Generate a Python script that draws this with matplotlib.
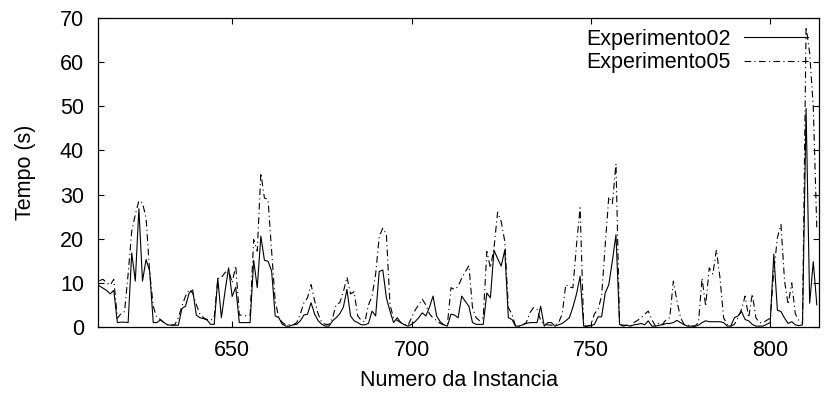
import numpy as np
import matplotlib.pyplot as plt

plt.rcParams['font.family'] = ['Liberation Sans', 'DejaVu Sans']

# instance numbers 613..813
instancia = np.arange(613, 814)

exp02 = [9.3, 8.8, 8.3, 7.5, 8.3, 1.0, 1.1, 1.1, 1.0, 16.8,
         10.4, 26.8, 10.4, 15.3, 12.7, 1.0, 1.0, 1.6, 1.0, 0.5,
         0.4, 0.4, 0.4, 4.2, 4.7, 7.7, 8.4, 2.7, 2.1, 1.9,
         1.6, 0.6, 0.6, 11.0, 2.1, 8.0, 13.4, 6.9, 9.0, 1.0,
         1.0, 1.0, 1.0, 15.1, 8.9, 20.6, 15.1, 14.9, 12.7, 2.5,
         2.1, 0.6, 0.2, 0.2, 0.5, 0.6, 1.4, 2.7, 2.9, 5.5,
         2.9, 1.4, 0.6, 0.2, 0.2, 1.4, 2.1, 3.0, 4.5, 8.5,
         2.5, 1.4, 1.0, 0.5, 0.5, 0.8, 3.6, 2.5, 12.6, 12.9,
         6.6, 3.6, 1.0, 2.1, 1.0, 0.5, 0.2, 0.6, 1.2, 2.1,
         3.2, 2.5, 4.5, 7.0, 2.5, 1.2, 0.5, 0.2, 2.9, 2.7,
         2.1, 7.0, 5.8, 4.7, 1.0, 0.6, 0.6, 0.6, 7.7, 6.6,
         17.4, 15.5, 13.8, 17.4, 2.1, 1.7, 0.2, 0.2, 0.5, 0.8,
         1.0, 1.0, 1.0, 4.7, 0.2, 1.0, 1.0, 0.2, 0.5, 0.8,
         1.4, 2.1, 4.5, 7.5, 11.5, 0.2, 0.2, 0.3, 0.6, 2.3,
         2.3, 7.7, 9.6, 15.0, 20.9, 0.6, 0.2, 0.4, 0.2, 0.5,
         0.6, 0.8, 0.5, 1.4, 0.2, 0.2, 0.4, 0.5, 0.8, 0.8,
         1.0, 1.5, 1.0, 0.5, 0.2, 0.2, 0.2, 0.4, 1.0, 1.4,
         1.2, 1.2, 1.2, 1.2, 1.0, 0.2, 0.2, 2.1, 2.5, 3.5,
         1.7, 1.4, 0.6, 0.2, 0.2, 0.2, 0.6, 1.0, 16.5, 3.8,
         3.5, 2.0, 0.8, 1.2, 0.5, 0.3, 0.5, 49.5, 5.4, 14.8,
         5.0]

exp05 = [10.5, 10.8, 10.0, 9.5, 10.8, 2.0, 3.0, 3.5, 12.0, 21.7,
         25.5, 28.6, 28.1, 24.7, 12.5, 4.7, 2.1, 1.7, 1.0, 0.5,
         0.5, 0.5, 2.1, 4.7, 7.0, 8.5, 7.7, 5.1, 2.9, 2.1,
         1.7, 1.5, 2.1, 11.0, 11.2, 12.3, 13.0, 10.0, 13.9, 2.7,
         2.7, 2.5, 2.7, 19.8, 17.2, 34.9, 29.2, 28.9, 17.2, 5.9,
         2.1, 1.0, 0.5, 0.5, 0.5, 1.0, 2.9, 5.5, 6.6, 9.6,
         5.9, 2.9, 1.0, 0.6, 0.6, 2.1, 5.1, 5.5, 8.0, 11.3,
         7.5, 8.0, 2.5, 1.5, 1.2, 5.0, 7.0, 12.0, 20.5, 22.4,
         21.0, 5.0, 2.0, 1.5, 1.0, 0.6, 0.3, 2.1, 3.8, 5.0,
         6.3, 5.0, 3.0, 2.0, 1.5, 0.8, 0.5, 0.5, 8.9, 8.5,
         9.2, 11.1, 12.5, 13.9, 4.4, 2.1, 1.4, 2.1, 17.1, 13.4,
         18.0, 26.0, 23.9, 19.4, 4.4, 2.9, 0.2, 0.2, 0.5, 1.0,
         3.2, 4.4, 4.0, 1.5, 0.6, 0.5, 0.4, 0.5, 1.0, 2.9,
         9.6, 9.0, 8.9, 18.6, 27.0, 0.2, 0.2, 0.4, 3.0, 4.0,
         7.0, 18.6, 29.5, 28.0, 37.0, 0.6, 0.4, 0.4, 0.2, 1.0,
         1.5, 2.1, 2.9, 3.6, 1.7, 0.2, 1.0, 0.6, 1.7, 2.1,
         10.4, 5.9, 2.1, 0.6, 0.4, 0.2, 0.2, 1.0, 11.1, 4.7,
         13.4, 12.0, 17.5, 11.1, 2.1, 0.6, 0.2, 0.6, 2.0, 4.0,
         7.0, 2.1, 7.5, 2.1, 1.0, 1.0, 1.5, 2.0, 12.6, 20.2,
         23.2, 10.4, 5.1, 10.0, 3.0, 1.4, 1.0, 68.0, 62.0, 50.0,
         22.0]

fig = plt.figure(figsize=(8.34, 3.96), dpi=100)
ax = fig.add_axes([98/834, 1-327/396, (819-98)/834, (327-18)/396])

ax.plot(instancia, exp02, color='k', lw=0.8, label='Experimento02')
ax.plot(instancia, exp05, color='k', lw=0.8, linestyle=(0, (6, 3, 1, 3)), label='Experimento05')

ax.set_xlim(612.6, 813.6)
ax.set_ylim(0, 70)
ax.set_xticks([650, 700, 750, 800])
ax.set_yticks(range(0, 71, 10))
ax.tick_params(direction='in', top=True, right=True, length=4, width=0.8, labelsize=15.5)
ax.tick_params(axis='y', pad=10)
ax.tick_params(axis='x', pad=9)
for s in ax.spines.values():
    s.set_linewidth(0.9)

ax.set_xlabel('Numero da Instancia', fontsize=15.5, labelpad=7)
ax.set_ylabel('Tempo (s)', fontsize=15.5, labelpad=17)

ax.legend(loc='upper right', frameon=False, markerfirst=False, fontsize=15.5,
          handlelength=3.0, handletextpad=0.6, labelspacing=0.12,
          borderaxespad=0.2, borderpad=0.3)

fig.savefig('out.png', dpi=100)
